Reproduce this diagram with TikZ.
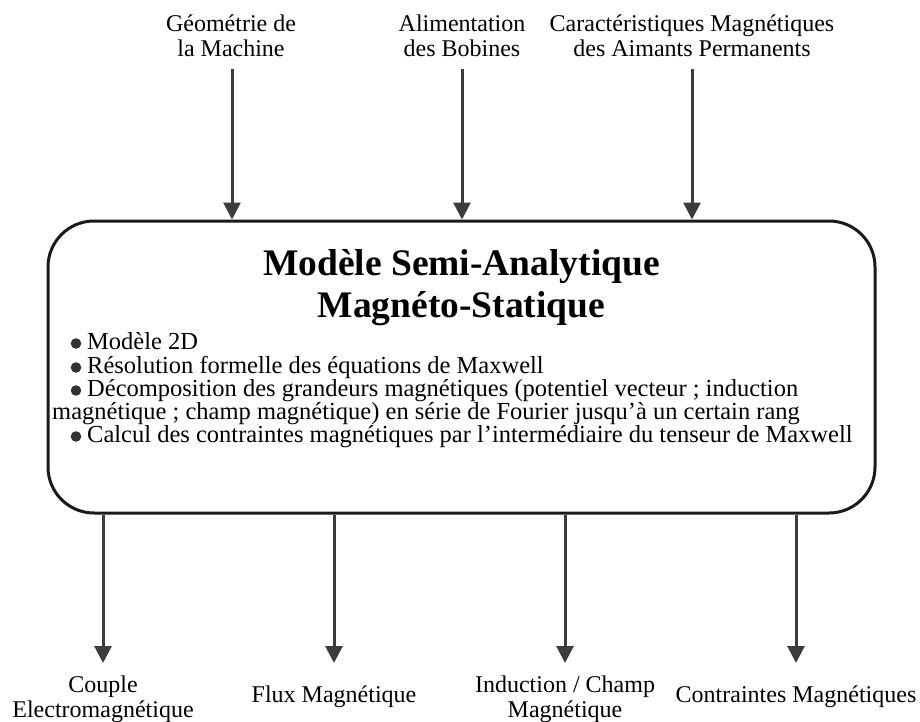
\documentclass[tikz,border=0pt]{standalone}
\usepackage{fontspec}
\setmainfont{Liberation Serif}
\usetikzlibrary{arrows.meta}
\definecolor{arrcol}{HTML}{3C3C3C}
\definecolor{boxcol}{HTML}{1A1A1A}
\definecolor{bulcol}{HTML}{333333}
\begin{document}
\begin{tikzpicture}[x=1pt,y=1pt,
  lbl/.style={inner sep=0pt, align=center, font=\fontsize{24}{25}\selectfont},
  bul/.style={inner sep=0pt, anchor=base west, font=\fontsize{24.5}{23}\selectfont},
  dot/.style={fill=bulcol, draw=none},
  ttl/.style={inner sep=0pt, anchor=base, font=\fontsize{37.5}{42}\selectfont\bfseries},
  arr/.style={draw=arrcol, line width=3pt, -{Triangle[length=17pt,width=17pt]}, color=arrcol},
  mainbox/.style={draw=boxcol, line width=3pt, rounded corners=46pt, minimum width=827pt, minimum height=292pt, inner sep=0pt}
]
\useasboundingbox (0,0) rectangle (920,-722);
\fill[white] (0,0) rectangle (920,-722);

\node[mainbox] (box) at (461.5,-367) {};

\node[ttl] (t1) at (461.5,-275) {Modèle Semi-Analytique};
\node[ttl] (t2) at (461.5,-317) {Magnéto-Statique};

\node[bul] (b1) at (87,-349) {Modèle 2D};
\node[bul] (b2) at (87,-373) {Résolution formelle des équations de Maxwell};
\node[bul] (b3) at (87,-396) {Décomposition des grandeurs magnétiques (potentiel vecteur ; induction};
\node[bul] (b4) at (52,-419) {magnétique ; champ magnétique) en série de Fourier jusqu’à un certain rang};
\node[bul] (b5) at (87,-442) {Calcul des contraintes magnétiques par l’intermédiaire du tenseur de Maxwell};
\fill[dot] (76,-343.5) circle (5.3pt);
\fill[dot] (76,-367.5) circle (5.3pt);
\fill[dot] (76,-390.5) circle (5.3pt);
\fill[dot] (76,-436.5) circle (5.3pt);

% top inputs
\node[lbl, anchor=base] (in1) at (231,-57) {Géométrie de\\la Machine};
\node[lbl, anchor=base] (in2) at (462,-57) {Alimentation\\des Bobines};
\node[lbl, anchor=base] (in3) at (692,-57) {Caractéristiques Magnétiques\\des Aimants Permanents};

\coordinate (s1) at (232,-69);
\coordinate (s2) at (462,-69);
\coordinate (s3) at (692,-69);
\draw[arr] (s1) -- (s1 |- box.north);
\draw[arr] (s2) -- (s2 |- box.north);
\draw[arr] (s3) -- (s3 |- box.north);

% bottom outputs
\node[lbl, anchor=base] (o1) at (103,-717) {Couple\\Electromagnétique};
\node[lbl, anchor=base] (o2) at (334,-702) {Flux Magnétique};
\node[lbl, anchor=base] (o3) at (565,-717) {Induction / Champ\\Magnétique};
\node[lbl, anchor=base] (o4) at (796,-702) {Contraintes Magnétiques};

\coordinate (e1) at (103,-663);
\coordinate (e2) at (334,-663);
\coordinate (e3) at (565,-663);
\coordinate (e4) at (796,-663);
\draw[arr] (e1 |- box.south) -- (e1);
\draw[arr] (e2 |- box.south) -- (e2);
\draw[arr] (e3 |- box.south) -- (e3);
\draw[arr] (e4 |- box.south) -- (e4);
\end{tikzpicture}
\end{document}
